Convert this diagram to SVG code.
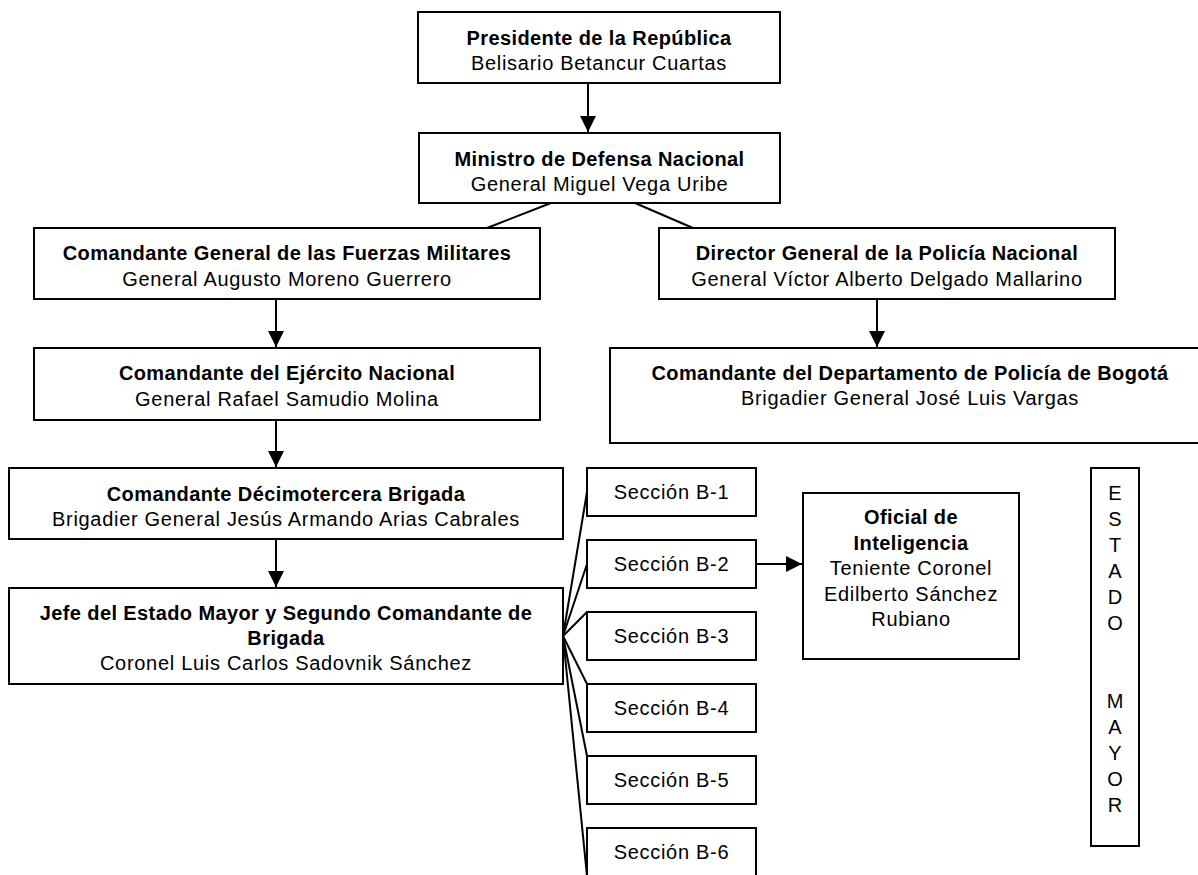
<svg xmlns="http://www.w3.org/2000/svg" width="1198" height="875" viewBox="0 0 1198 875">
<style>
.box{fill:#fff;stroke:#000;stroke-width:2}
.t{font-family:"Liberation Sans",Arial,sans-serif;font-size:20px;fill:#000;text-anchor:middle}
.b{font-weight:bold;letter-spacing:0.4px}
.r{letter-spacing:0.7px}
.ln{stroke:#000;stroke-width:2;fill:none}
.v{font-family:"Liberation Sans",Arial,sans-serif;font-size:20px;fill:#000;text-anchor:middle}
</style>
<defs>
<marker id="ah" markerUnits="userSpaceOnUse" markerWidth="17" markerHeight="16" refX="16" refY="8" orient="auto">
<path d="M0,0 L16,8 L0,16 Z" fill="#000"/>
</marker>
</defs>
<rect width="1198" height="875" fill="#fff"/>
<g id="connectors">
<line class="ln" x1="588" y1="83" x2="588" y2="132" marker-end="url(#ah)"/>
<line class="ln" x1="551" y1="203" x2="487" y2="228"/>
<line class="ln" x1="635" y1="203" x2="693" y2="228"/>
<line class="ln" x1="276" y1="299" x2="276" y2="347" marker-end="url(#ah)"/>
<line class="ln" x1="877" y1="299" x2="877" y2="347" marker-end="url(#ah)"/>
<line class="ln" x1="276" y1="420" x2="276" y2="467" marker-end="url(#ah)"/>
<line class="ln" x1="276" y1="539" x2="276" y2="587" marker-end="url(#ah)"/>
<line class="ln" x1="563" y1="636" x2="587" y2="492"/>
<line class="ln" x1="563" y1="636" x2="587" y2="564"/>
<line class="ln" x1="563" y1="636" x2="587" y2="612"/>
<line class="ln" x1="563" y1="636" x2="587" y2="684"/>
<line class="ln" x1="563" y1="636" x2="587" y2="756"/>
<line class="ln" x1="563" y1="636" x2="587" y2="876"/>
<line class="ln" x1="756" y1="564" x2="802" y2="564" marker-end="url(#ah)"/>
</g>
<g id="presidente">
<rect class="box" x="418" y="12" width="362" height="71"/>
<text class="t b" x="599" y="45">Presidente de la República</text>
<text class="t r" x="599" y="70">Belisario Betancur Cuartas</text>
</g>
<g id="ministro">
<rect class="box" x="419" y="133" width="361" height="70"/>
<text class="t b" x="599.5" y="166">Ministro de Defensa Nacional</text>
<text class="t r" x="599.5" y="191">General Miguel Vega Uribe</text>
</g>
<g id="comandante-general">
<rect class="box" x="34" y="228" width="506" height="71"/>
<text class="t b" x="287" y="260">Comandante General de las Fuerzas Militares</text>
<text class="t r" x="287" y="286">General Augusto Moreno Guerrero</text>
</g>
<g id="director-policia">
<rect class="box" x="659" y="228" width="456" height="71"/>
<text class="t b" x="887" y="260">Director General de la Policía Nacional</text>
<text class="t r" x="887" y="286">General Víctor Alberto Delgado Mallarino</text>
</g>
<g id="ejercito">
<rect class="box" x="34" y="348" width="506" height="72"/>
<text class="t b" x="287" y="380">Comandante del Ejército Nacional</text>
<text class="t r" x="287" y="406">General Rafael Samudio Molina</text>
</g>
<g id="policia-bogota">
<rect class="box" x="610" y="348" width="610" height="95"/>
<text class="t b" x="910" y="380">Comandante del Departamento de Policía de Bogotá</text>
<text class="t r" x="910" y="405">Brigadier General José Luis Vargas</text>
</g>
<g id="decimotercera">
<rect class="box" x="9" y="468" width="554" height="71"/>
<text class="t b" x="286" y="501">Comandante Décimotercera Brigada</text>
<text class="t r" x="286" y="526">Brigadier General Jesús Armando Arias Cabrales</text>
</g>
<g id="jefe-estado-mayor">
<rect class="box" x="9" y="588" width="554" height="96"/>
<text class="t b" x="286" y="620">Jefe del Estado Mayor y Segundo Comandante de</text>
<text class="t b" x="286" y="645">Brigada</text>
<text class="t r" x="286" y="670">Coronel Luis Carlos Sadovnik Sánchez</text>
</g>
<g id="seccion-b1">
<rect class="box" x="587" y="468" width="169" height="48"/>
<text class="t r" x="671.5" y="499">Sección B-1</text>
</g>
<g id="seccion-b2">
<rect class="box" x="587" y="540" width="169" height="48"/>
<text class="t r" x="671.5" y="571">Sección B-2</text>
</g>
<g id="seccion-b3">
<rect class="box" x="587" y="612" width="169" height="48"/>
<text class="t r" x="671.5" y="643">Sección B-3</text>
</g>
<g id="seccion-b4">
<rect class="box" x="587" y="684" width="169" height="48"/>
<text class="t r" x="671.5" y="715">Sección B-4</text>
</g>
<g id="seccion-b5">
<rect class="box" x="587" y="756" width="169" height="48"/>
<text class="t r" x="671.5" y="787">Sección B-5</text>
</g>
<g id="seccion-b6">
<rect class="box" x="587" y="828" width="169" height="50"/>
<text class="t r" x="671.5" y="859">Sección B-6</text>
</g>
<g id="oficial-inteligencia">
<rect class="box" x="803" y="493" width="216" height="166"/>
<text class="t b" x="911" y="524">Oficial de</text>
<text class="t b" x="911" y="549.5">Inteligencia</text>
<text class="t r" x="911" y="575">Teniente Coronel</text>
<text class="t r" x="911" y="600.5">Edilberto Sánchez</text>
<text class="t r" x="911" y="626">Rubiano</text>
</g>
<g id="estado-mayor">
<rect class="box" x="1091" y="468" width="48" height="378"/>
<text class="v" x="1115" y="500">E</text>
<text class="v" x="1115" y="526">S</text>
<text class="v" x="1115" y="552">T</text>
<text class="v" x="1115" y="578">A</text>
<text class="v" x="1115" y="604">D</text>
<text class="v" x="1115" y="630">O</text>
<text class="v" x="1115" y="708">M</text>
<text class="v" x="1115" y="734">A</text>
<text class="v" x="1115" y="760">Y</text>
<text class="v" x="1115" y="786">O</text>
<text class="v" x="1115" y="812">R</text>
</g>
</svg>
